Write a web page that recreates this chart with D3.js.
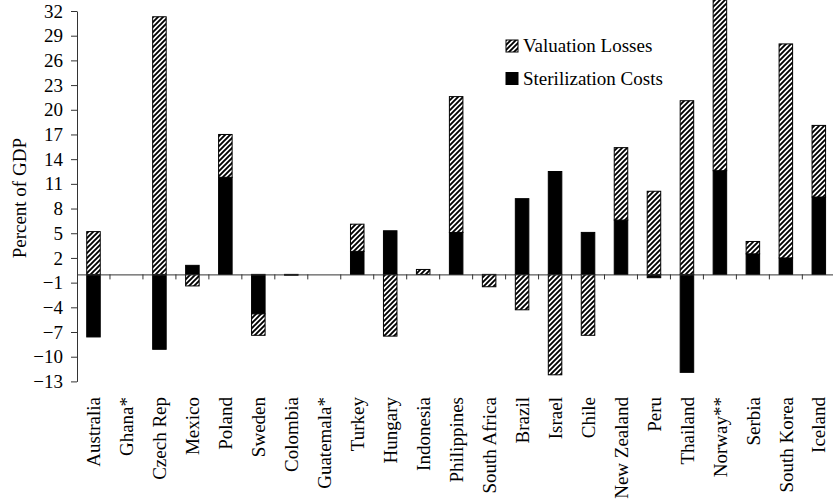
<!DOCTYPE html>
<html>
<head>
<meta charset="utf-8">
<script src="https://cdn.jsdelivr.net/npm/d3@7"></script>
<style>
  body { margin: 0; background: #fff; }
  svg text { font-family: "Liberation Serif", "Times New Roman", serif; fill: #000; }
</style>
</head>
<body>
<svg id="chart"></svg>
<script>
const countries = ["Australia", "Ghana*", "Czech Rep", "Mexico", "Poland", "Sweden", "Colombia",
  "Guatemala*", "Turkey", "Hungary", "Indonesia", "Philippines", "South Africa", "Brazil",
  "Israel", "Chile", "New Zealand", "Peru", "Thailand", "Norway**", "Serbia", "South Korea", "Iceland"];

const sterilizationCosts = [-7.6, 0, -9.1, 1.1, 11.8, -4.8, -0.1, 0, 2.8, 5.3, 0, 5.1, 0, 9.2,
  12.5, 5.1, 6.6, -0.4, -11.9, 12.6, 2.5, 2.0, 9.4];

const valuationLosses = [5.2, 0, 31.3, -1.4, 5.2, -2.6, 0, 0, 3.3, -7.5, 0.6, 16.5, -1.5, -4.3,
  -12.2, -7.4, 8.8, 10.1, 21.1, 21.9, 1.5, 26.0, 8.7];

const yTicks = [-13, -10, -7, -4, -1, 2, 5, 8, 11, 14, 17, 20, 23, 26, 29, 32];

const seriesNames = ["Valuation Losses", "Sterilization Costs"];

const W = 833, H = 502;
const plotLeft = 77, plotRight = 835.3, plotTop = 11, plotBottom = 381.4;
const serif = "'Liberation Serif', 'Times New Roman', serif";
const fontSize = 19;

const svg = d3.select("#chart")
  .attr("width", W)
  .attr("height", H);

// hatch pattern for valuation losses
const pat = svg.append("defs").append("pattern")
  .attr("id", "hatch")
  .attr("patternUnits", "userSpaceOnUse")
  .attr("width", 5)
  .attr("height", 5);
pat.append("rect").attr("width", 5).attr("height", 5).attr("fill", "#fff");
pat.append("path")
  .attr("d", "M-1,1 l2,-2 M0,5 l5,-5 M4,6 l2,-2")
  .attr("stroke", "#000")
  .attr("stroke-width", 1.9);

const rows = countries.map((c, i) => ({
  country: c,
  sterilization: sterilizationCosts[i],
  valuation: valuationLosses[i]
}));

const x = d3.scaleBand().domain(countries).range([plotLeft, plotRight]).padding(0);
const y = d3.scaleLinear().domain([-13, 32]).range([plotBottom, plotTop]);

const barW = x.bandwidth() * 0.41;

const stack = d3.stack()
  .keys(["sterilization", "valuation"])
  .offset(d3.stackOffsetDiverging);
const layers = stack(rows);

const fills = { sterilization: "#000", valuation: "url(#hatch)" };

svg.append("g")
  .selectAll("g")
  .data(layers)
  .enter()
  .append("g")
  .attr("fill", d => fills[d.key])
  .selectAll("rect")
  .data(d => d.filter(s => s[1] !== s[0]))
  .enter()
  .append("rect")
  .attr("x", d => x(d.data.country) + (x.bandwidth() - barW) / 2)
  .attr("y", d => y(Math.max(d[0], d[1])))
  .attr("width", barW)
  .attr("height", d => Math.abs(y(d[0]) - y(d[1])))
  .attr("stroke", "#000")
  .attr("stroke-width", 1);

// y axis
const yAxis = svg.append("g")
  .attr("transform", `translate(${plotLeft},0)`)
  .call(d3.axisLeft(y).tickValues(yTicks).tickSize(6).tickSizeOuter(0).tickPadding(8));
yAxis.attr("font-family", serif).attr("font-size", fontSize);
yAxis.selectAll("line, path").attr("stroke", "#333");

// x axis at zero
const xAxis = svg.append("g")
  .attr("transform", `translate(0,${y(0)})`)
  .call(d3.axisBottom(x).tickValues([]).tickSizeOuter(0));
xAxis.select("path").attr("stroke", "#333");
xAxis.selectAll("line.boundary")
  .data(countries.slice(1))
  .enter()
  .append("line")
  .attr("class", "boundary")
  .attr("x1", d => x(d))
  .attr("x2", d => x(d))
  .attr("y1", 0)
  .attr("y2", 5)
  .attr("stroke", "#333");

// category labels
svg.append("g")
  .attr("font-family", serif)
  .attr("font-size", fontSize)
  .selectAll("text")
  .data(countries)
  .enter()
  .append("text")
  .attr("transform", d => `translate(${x(d) + x.bandwidth() / 2},397) rotate(-90)`)
  .attr("dy", "0.35em")
  .attr("text-anchor", "end")
  .text(d => d);

// y axis title
svg.append("text")
  .attr("transform", `translate(26,${(plotTop + plotBottom) / 2 + 2}) rotate(-90)`)
  .attr("text-anchor", "middle")
  .attr("font-family", serif)
  .attr("font-size", fontSize)
  .text("Percent of GDP");

// legend
const legend = svg.append("g")
  .attr("transform", "translate(506,40)")
  .attr("font-family", serif)
  .attr("font-size", fontSize);
legend.selectAll("rect")
  .data(seriesNames)
  .enter()
  .append("rect")
  .attr("x", 0)
  .attr("y", (d, i) => i * 32.5)
  .attr("width", 12)
  .attr("height", 12)
  .attr("fill", (d, i) => i === 0 ? "url(#hatch)" : "#000")
  .attr("stroke", "#000");
legend.selectAll("text")
  .data(seriesNames)
  .enter()
  .append("text")
  .attr("x", 17)
  .attr("y", (d, i) => i * 32.5 + 12)
  .text(d => d);
</script>
</body>
</html>
